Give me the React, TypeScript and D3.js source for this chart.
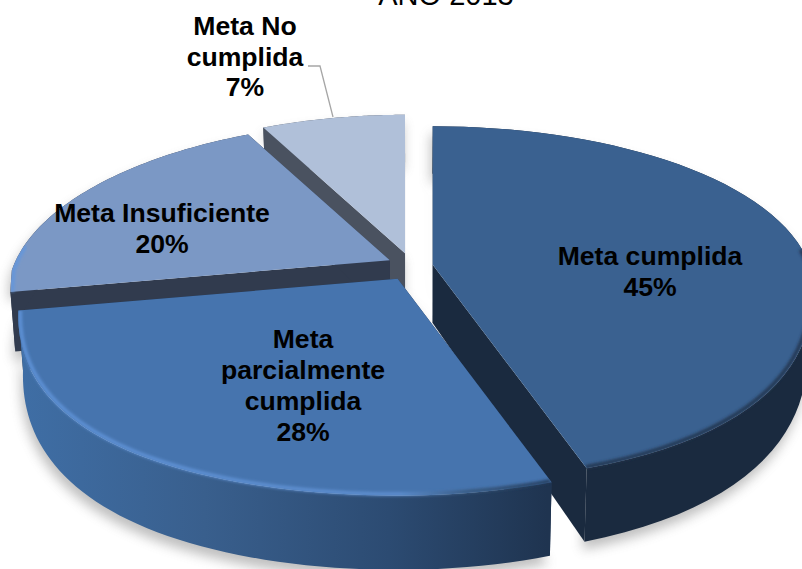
import React from "react";
import * as d3 from "d3";

const categories = ["Meta cumplida", "Meta parcialmente cumplida", "Meta Insuficiente", "Meta No cumplida"];
const values = [45, 28, 20, 7];
const topColors = ["#3A6190", "#4674AE", "#7B98C5", "#B0C0D9"];
const wallColors = ["#1A2A3F", "#203550", "#313B4E", "#4A5260"];
const rimColors = ["#22364F", "url(#rim2)", "#6396DC", "#B0C0D9"];
const titleText = "AÑO 2013";
const labelLines = [
  { lines: ["Meta cumplida", "45%"], x: 650, y: [265, 296] },
  { lines: ["Meta", "parcialmente", "cumplida", "28%"], x: 303, y: [348, 379, 410, 441] },
  { lines: ["Meta Insuficiente", "20%"], x: 162, y: [222, 253] },
  { lines: ["Meta No", "cumplida", "7%"], x: 245, y: [35, 65.5, 96] },
];

const W = 802, H = 569;
const CX = 410, CY = 267;
const EX = 23, EY = 14;
const SX = 378, KX_NEAR = 0.26, KX_FAR = 0.15, SY = 169, KY = 0.22, BUMP_L = 10, BUMP_R = 3, DEPTH = 58, VX = 410;

type P = [number, number];
const top = (a: number, ox: number, oy: number, r = 1): P => {
  const u = r * Math.sin(a), v = -r * Math.cos(a);
  const px = v > 0 ? 1 / (1 - KX_NEAR * Math.pow(v, 1.5)) : 1 / (1 - KX_FAR * v);
  const bump = (u < 0 ? BUMP_L : BUMP_R) * u * u;
  return [ox + SX * u * px, oy + (SY * v) / (1 - KY * v) + bump];
};
const bottom = (a: number, ox: number, oy: number, r = 1): P => {
  const [x, y] = top(a, ox, oy, r);
  const v = -r * Math.cos(a);
  return [x + (VX - x) * 0.012, y + DEPTH / (1 - 0.22 * v)];
};
const line = d3.line<P>();

const arcs = d3.pie<number>().sort(null)(values);

const slices = arcs.map((d, i) => {
  const mid = (d.startAngle + d.endAngle) / 2;
  const ox = CX + EX * Math.sin(mid), oy = CY - EY * Math.cos(mid);
  const angles = d3.range(0, 61).map((k) => d.startAngle + ((d.endAngle - d.startAngle) * k) / 60);
  const rimTop = angles.map((a) => top(a, ox, oy));
  const rimBot = angles.map((a) => bottom(a, ox, oy));
  const apexTop: P = top(0, ox, oy, 0);
  const apexBot: P = bottom(0, ox, oy, 0);
  const face = line([apexTop, ...rimTop])! + "Z";
  const outer = line([...rimTop, ...rimBot.slice().reverse()])! + "Z";
  const sideA = line([apexTop, rimTop[0], rimBot[0], apexBot])! + "Z";
  const sideB = line([apexTop, rimTop[60], rimBot[60], apexBot])! + "Z";
  const whole = line([apexBot, ...rimBot, ...rimTop.slice().reverse(), apexTop])! + "Z";
  // the bevel only shows on the part of the rim that faces the viewer
  const near = angles.filter((a) => -Math.cos(a) > -0.15);
  const rim = line(near.map((a) => top(a, ox, oy, 0.995))) ?? "";
  return { i, face, outer, sideA, sideB, whole, rim, clipId: `clip${i}` };
});

const order = [3, 2, 0, 1];

export default function App() {
  return (
    <svg width={W} height={H} viewBox={`0 0 ${W} ${H}`} style={{ position: "absolute", left: 0, top: 0, display: "block" }}>
      <defs>
        <linearGradient id="wall2" gradientUnits="userSpaceOnUse" x1={20} x2={547} y1={0} y2={0}>
          <stop offset="0" stopColor="#3F6EA5" />
          <stop offset="0.35" stopColor="#395F8D" />
          <stop offset="0.7" stopColor="#2C4B72" />
          <stop offset="1" stopColor="#1F3450" />
        </linearGradient>
        <linearGradient id="rim2" gradientUnits="userSpaceOnUse" x1={20} x2={547} y1={0} y2={0}>
          <stop offset="0" stopColor="#5F93D8" />
          <stop offset="0.72" stopColor="#5E8FD0" />
          <stop offset="0.85" stopColor="#38597F" />
          <stop offset="1" stopColor="#223A58" />
        </linearGradient>
        <filter id="soft" x="-10%" y="-10%" width="120%" height="120%">
          <feGaussianBlur stdDeviation="6" />
        </filter>
        <filter id="rimBlur" x="-5%" y="-5%" width="110%" height="110%">
          <feGaussianBlur stdDeviation="1.6" />
        </filter>
        {slices.map((s) => (
          <clipPath id={s.clipId} key={s.i}>
            <path d={s.face} />
            <path d={s.outer} />
          </clipPath>
        ))}
      </defs>
      <rect width={W} height={H} fill="#fff" />
      <text x={446} y={5} textAnchor="middle" fontFamily="Liberation Sans" fontSize={29} fill="#000">{titleText}</text>
      <g filter="url(#soft)" opacity={0.42} transform="translate(-2,8)">
        {slices.map((s) => <path key={s.i} d={s.whole} fill="#666" />)}
      </g>
      {order.map((i) => {
        const s = slices[i];
        const wall = i === 1 ? "url(#wall2)" : wallColors[i];
        return (
          <g key={s.i}>
            <path d={s.sideA} fill={wallColors[i]} />
            <path d={s.sideB} fill={wallColors[i]} />
            <path d={s.outer} fill={wall} />
            <path d={s.face} fill={topColors[i]} />
            {i < 3 && s.rim && (
              <g clipPath={`url(#${s.clipId})`}>
                <path d={s.rim} fill="none" stroke={rimColors[i]} strokeWidth={3.5} filter="url(#rimBlur)" />
              </g>
            )}
          </g>
        );
      })}
      <path d="M308,66H320L333,117" fill="none" stroke="#A6A6A6" strokeWidth={1.3} />
      {labelLines.map((l) => (
        <text key={l.lines[0]} textAnchor="middle" fontFamily="Liberation Sans" fontWeight="bold" fontSize={26.6} fill="#000">
          {l.lines.map((t, j) => (
            <tspan key={j} x={l.x} y={l.y[j]}>{t}</tspan>
          ))}
        </text>
      ))}
      <title>{categories.join(", ")}</title>
    </svg>
  );
}
